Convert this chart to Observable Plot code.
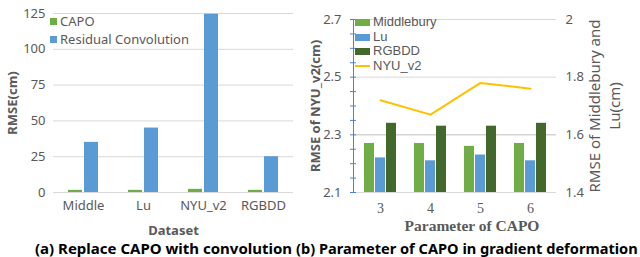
<!DOCTYPE html>
<html><head><meta charset="utf-8">
<script src="https://cdn.jsdelivr.net/npm/d3@7"></script>
<script src="https://cdn.jsdelivr.net/npm/@observablehq/plot@0.6"></script>
<style>
body{margin:0;background:#fff;}
#root{position:relative;width:640px;height:257px;overflow:hidden;font-family:"Noto Sans",sans-serif;background:#fff;}
#root svg{position:absolute;top:0;}
.cap{position:absolute;top:240px;font-weight:bold;color:#000;white-space:nowrap;line-height:17px;}
.leg{position:absolute;font-size:13px;color:#595959;}
.leg .row{display:flex;align-items:center;white-space:nowrap;}
.leg .sw{display:inline-block;margin-right:3px;}
</style></head><body><div id="root"></div>
<script>
// ---- Panel (a) data ----
const datasets = ["Middle", "Lu", "NYU_v2", "RGBDD"];
const capoRMSE = [1.5, 1.5, 2.2, 1.5];
const residualRMSE = [35, 45, 124.5, 25];
const aTicks = [0, 25, 50, 75, 100, 125];
const aSeries = ["CAPO", "Residual Convolution"];

// ---- Panel (b) data ----
const params = ["3", "4", "5", "6"];
const middlebury = [1.57, 1.57, 1.56, 1.57];   // right axis
const lu = [1.52, 1.51, 1.53, 1.51];           // right axis
const rgbdd = [2.34, 2.33, 2.33, 2.34];        // left axis
const nyu = [2.42, 2.37, 2.48, 2.46];          // left axis (line)
const leftTicks = [2.1, 2.3, 2.5, 2.7];
const rightTicks = [1.4, 1.6, 1.8, 2.0];
const bSeries = ["Middlebury", "Lu", "RGBDD", "NYU_v2"];
const rightTitle = "RMSE of Middlebury and\nLu(cm)";

const GREEN = "#70AD47", BLUE = "#5B9BD5", DKGREEN = "#43682B", YELLOW = "#FFC000";
const GRAY = "#595959";
const root = document.getElementById("root");

// ---------- Panel (a) ----------
const aRows = datasets.map((d, i) => ({dataset: d, capo: capoRMSE[i], res: residualRMSE[i]}));
const plotA = Plot.plot({
  width: 300, height: 240,
  marginLeft: 53, marginRight: 7, marginTop: 13, marginBottom: 48,
  style: {fontSize: "13px", fontFamily: "'Noto Sans', sans-serif", color: GRAY, background: "transparent"},
  x: {domain: datasets, padding: 0},
  y: {domain: [0, 125]},
  marks: [
    Plot.ruleY(aTicks, {stroke: "#d9d9d9"}),
    Plot.barY(aRows, {x: "dataset", y: "capo", fill: GREEN, insetLeft: 23, insetRight: 23, dx: -8}),
    Plot.barY(aRows, {x: "dataset", y: "res", fill: BLUE, insetLeft: 23, insetRight: 23, dx: 8}),
    Plot.axisY({ticks: aTicks, tickSize: 0, tickPadding: 8, label: "RMSE(cm)", labelAnchor: "center", labelOffset: 46, labelArrow: "none"}),
    Plot.axisX({tickSize: 0, tickPadding: 8, label: "Dataset", labelAnchor: "center", labelOffset: 42, labelArrow: "none"})
  ]
});
plotA.style.left = "0px";
root.appendChild(plotA);

// ---------- Panel (b) ----------
const off = leftTicks[0] - rightTicks[0]; // map right axis onto left
const bRows = params.map((p, i) => ({p, mid: middlebury[i] + off, lu: lu[i] + off, rgb: rgbdd[i], nyu: nyu[i]}));
const base = leftTicks[0];
const minor = d3.range(13).map(i => +(leftTicks[0] + i * 0.05).toFixed(2));
const plotB = Plot.plot({
  width: 340, height: 240,
  marginLeft: 53, marginRight: 84, marginTop: 19, marginBottom: 48,
  style: {fontSize: "13px", fontFamily: "'Noto Sans', sans-serif", color: GRAY, background: "transparent"},
  x: {domain: params, padding: 0},
  y: {domain: [leftTicks[0], leftTicks[leftTicks.length - 1]]},
  marks: [
    Plot.ruleY(leftTicks, {stroke: d => d === 2.3 ? "#bfbfbf" : "#d9d9d9"}),
    Plot.barY(bRows, {x: "p", y1: base, y2: "mid", fill: GREEN, insetLeft: 20, insetRight: 20, dx: -11}),
    Plot.barY(bRows, {x: "p", y1: base, y2: "lu", fill: BLUE, insetLeft: 20, insetRight: 20}),
    Plot.barY(bRows, {x: "p", y1: base, y2: "rgb", fill: DKGREEN, insetLeft: 20, insetRight: 20, dx: 11}),
    Plot.line(bRows, {x: "p", y: "nyu", stroke: YELLOW, strokeWidth: 2}),
    Plot.frame({anchor: "left", stroke: "#4f81d6"}),
    Plot.axisY({ticks: minor, tickSize: 6, dx: 3, text: null, stroke: "#4f81d6", label: null}),
    Plot.axisY({ticks: leftTicks, tickSize: 0, tickPadding: 12, tickFormat: d => d.toFixed(1), label: "RMSE of NYU_v2(cm)", labelAnchor: "center", labelOffset: 43, labelArrow: "none"}),
    Plot.axisY({anchor: "right", ticks: leftTicks, tickSize: 0, tickPadding: 9, tickFormat: d => String(+(d - off).toFixed(1)), label: null}),
    Plot.text([rightTitle], {text: d => d, frameAnchor: "right", textAnchor: "middle", lineAnchor: "middle", rotate: -90, dx: 47, lineHeight: 1.33, fontSize: 15, fill: GRAY}),
    Plot.axisX({tickSize: 0, tickPadding: 11, fontFamily: "'Liberation Serif', serif", fontSize: 14, label: null}),
    Plot.axisX({tickSize: 0, text: null, label: "Parameter of CAPO", labelAnchor: "center", labelOffset: 38, labelArrow: "none"})
  ]
});
plotB.style.left = "300px";
root.appendChild(plotB);

// styling of axis titles
d3.select(plotA).selectAll('[aria-label="x-axis label"], [aria-label="y-axis label"]').attr("font-weight", "bold");
d3.select(plotB).selectAll('[aria-label="y-axis label"]').attr("font-weight", "bold");
d3.select(plotB).selectAll('[aria-label="x-axis label"]').attr("font-weight", "bold")
  .attr("font-family", "'Liberation Serif', serif").attr("font-size", 15.5)
  .attr("transform", function() { return (this.getAttribute("transform") || "") + " translate(17,0)"; });

// ---------- Legends ----------
function legend(items, left, top, rowH, swW, swH, font) {
  const div = document.createElement("div");
  div.className = "leg";
  div.style.left = left + "px"; div.style.top = top + "px";
  if (font) div.style.fontFamily = font;
  items.forEach(it => {
    const r = document.createElement("div");
    r.className = "row"; r.style.height = rowH + "px"; r.style.lineHeight = rowH + "px";
    const s = document.createElement("span");
    s.className = "sw";
    s.style.width = swW + "px";
    s.style.height = (it.line ? 2 : swH) + "px";
    s.style.background = it.color;
    r.appendChild(s);
    r.appendChild(document.createTextNode(it.label));
    div.appendChild(r);
  });
  root.appendChild(div);
}
legend(aSeries.map((s, i) => ({label: s, color: [GREEN, BLUE][i]})), 50, 12, 18, 7, 7);
legend(bSeries.map((s, i) => ({label: s, color: [GREEN, BLUE, DKGREEN, YELLOW][i], line: i === 3})), 355, 15, 14.7, 15, 7, "'Liberation Sans', Arial, sans-serif");

// ---------- Captions ----------
const capA = document.createElement("div");
capA.className = "cap"; capA.style.left = "35px"; capA.style.fontSize = "15px";
capA.textContent = "(a) Replace CAPO with convolution";
root.appendChild(capA);
const capB = document.createElement("div");
capB.className = "cap"; capB.style.left = "296px"; capB.style.fontSize = "14.6px";
capB.textContent = "(b) Parameter of CAPO in gradient deformation";
root.appendChild(capB);
</script></body></html>
